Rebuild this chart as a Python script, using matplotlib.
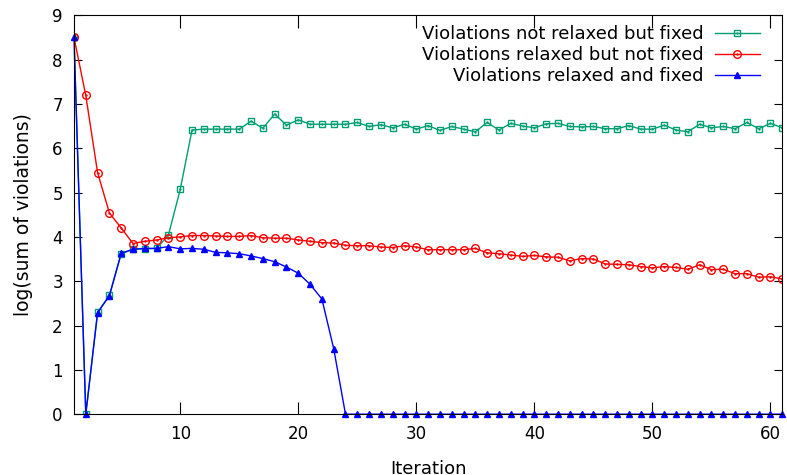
import matplotlib.pyplot as plt
from matplotlib.legend_handler import HandlerTuple

# Define data.
iterations = list(range(1, 62))

not_relaxed_fixed = [8.5, 0.0, 2.3, 2.68, 3.62, 3.72, 3.73, 3.74, 4.04, 5.07,
                     6.41, 6.43, 6.43, 6.43, 6.43, 6.61, 6.45, 6.77, 6.52, 6.64,
                     6.54, 6.54, 6.54, 6.54, 6.58, 6.49, 6.53, 6.46, 6.54, 6.43,
                     6.51, 6.40, 6.49, 6.43, 6.37, 6.58, 6.41, 6.56, 6.50, 6.46,
                     6.55, 6.56, 6.49, 6.48, 6.49, 6.44, 6.44, 6.51, 6.43, 6.43,
                     6.52, 6.41, 6.37, 6.54, 6.46, 6.49, 6.44, 6.58, 6.44, 6.56,
                     6.46]

relaxed_not_fixed = [8.5, 7.19, 5.45, 4.54, 4.20, 3.85, 3.90, 3.93, 3.98, 4.00,
                     4.03, 4.03, 4.02, 4.01, 4.01, 4.03, 3.98, 3.97, 3.97, 3.93,
                     3.90, 3.87, 3.86, 3.81, 3.80, 3.80, 3.77, 3.76, 3.80, 3.77,
                     3.71, 3.71, 3.71, 3.71, 3.74, 3.64, 3.62, 3.59, 3.56, 3.58,
                     3.55, 3.54, 3.46, 3.51, 3.50, 3.39, 3.38, 3.37, 3.33, 3.30,
                     3.33, 3.31, 3.27, 3.37, 3.26, 3.27, 3.17, 3.17, 3.09, 3.10,
                     3.05]

relaxed_fixed = [8.5, 0.0, 2.29, 2.67, 3.63, 3.72, 3.74, 3.74, 3.78, 3.73,
                 3.74, 3.72, 3.65, 3.64, 3.62, 3.57, 3.51, 3.44, 3.32, 3.18,
                 2.93, 2.60, 1.48] + [0.0] * 38

green = '#009e73'

# Make plot.
fig = plt.figure(figsize=(7.87, 4.75), dpi=100)
ax = fig.add_axes([0.094, 0.128, 0.9, 0.84])

g1, = ax.plot(iterations, not_relaxed_fixed, color=green, linewidth=1,
              marker='s', markersize=5, markerfacecolor='none',
              markeredgewidth=1)
g2, = ax.plot(iterations, not_relaxed_fixed, color=green, linestyle='none',
              marker='.', markersize=1.5)
r1, = ax.plot(iterations, relaxed_not_fixed, color='red', linewidth=1,
              marker='o', markersize=5.5, markerfacecolor='none',
              markeredgewidth=1)
r2, = ax.plot(iterations, relaxed_not_fixed, color='red', linestyle='none',
              marker='.', markersize=1.5)
b1, = ax.plot(iterations, relaxed_fixed, color='blue', linewidth=1,
              marker='^', markersize=4.5, clip_on=False)

# Customize plot.
ax.set_xlim(1, 61)
ax.set_ylim(0, 9)
ax.set_xticks([10, 20, 30, 40, 50, 60])
ax.set_yticks(range(10))
ax.tick_params(axis='both', direction='in', top=True, right=True,
               labelsize=12, pad=8)
ax.tick_params(axis='x', length=9)
ax.tick_params(axis='y', length=6)
ax.set_xlabel('Iteration', fontsize=13, labelpad=12)
ax.set_ylabel('log(sum of violations)', fontsize=13.5, labelpad=14)

ax.legend([(g1, g2), (r1, r2), b1],
          ['Violations not relaxed but fixed',
           'Violations relaxed but not fixed',
           'Violations relaxed and fixed'],
          handler_map={tuple: HandlerTuple(ndivide=1)},
          loc='upper right', bbox_to_anchor=(0.986, 1.0075),
          markerfirst=False, frameon=False, fontsize=13,
          handlelength=2.5, handletextpad=0.6, labelspacing=0.18,
          borderaxespad=0.3)

fig.savefig('out.png')
